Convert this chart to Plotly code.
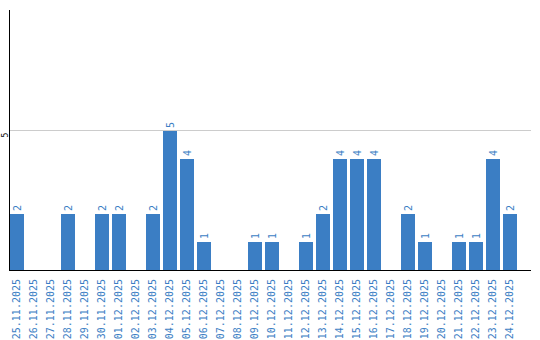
import plotly.graph_objects as go

dates = ["25.11.2025","26.11.2025","27.11.2025","28.11.2025","29.11.2025","30.11.2025",
         "01.12.2025","02.12.2025","03.12.2025","04.12.2025","05.12.2025","06.12.2025",
         "07.12.2025","08.12.2025","09.12.2025","10.12.2025","11.12.2025","12.12.2025",
         "13.12.2025","14.12.2025","15.12.2025","16.12.2025","17.12.2025","18.12.2025",
         "19.12.2025","20.12.2025","21.12.2025","22.12.2025","23.12.2025","24.12.2025"]
values = [2,0,0,2,0,2,2,0,2,5,4,1,0,0,1,1,0,1,2,4,4,4,0,2,1,0,1,1,4,2]
y_tickvals = [0, 5]
y_label_val = 5

labels = [str(v) if v > 0 else "" for v in values]
blue = "#3b7ec4"

fig = go.Figure(go.Bar(
    x=list(range(len(dates))), y=values,
    marker=dict(color=blue, line=dict(width=0)),
    width=14/17,
    text=labels, textposition="outside", textangle=-90,
    textfont=dict(family="DejaVu Sans Mono", size=10, color=blue),
    cliponaxis=False,
))
fig.update_layout(
    width=540, height=340,
    margin=dict(l=10, r=9, t=10, b=70),
    paper_bgcolor="white", plot_bgcolor="white",
    showlegend=False,
    bargap=0,
)
fig.update_xaxes(
    tickmode="array", tickvals=list(range(len(dates))), ticktext=dates,
    tickangle=-90, tickfont=dict(family="DejaVu Sans Mono", size=10, color=blue),
    range=[-7/17, 30.24], showline=True, linecolor="black", linewidth=1,
    showgrid=False, zeroline=False, ticks="", automargin=False,
    ticklabelstandoff=4,
)
fig.update_yaxes(
    range=[0, 9.35], tickmode="array", tickvals=y_tickvals,
    showgrid=True, gridcolor="#cccccc",
    showline=True, linecolor="black", linewidth=1, zeroline=False,
    showticklabels=False, ticks="", automargin=False,
)
fig.add_annotation(
    x=0, xref="paper", xanchor="center", xshift=-5,
    y=y_label_val, yref="y", yanchor="top", yshift=0,
    text=str(y_label_val), textangle=-90, showarrow=False,
    font=dict(family="DejaVu Sans Mono", size=8, color="black"),
)
fig.write_html("out.html")
